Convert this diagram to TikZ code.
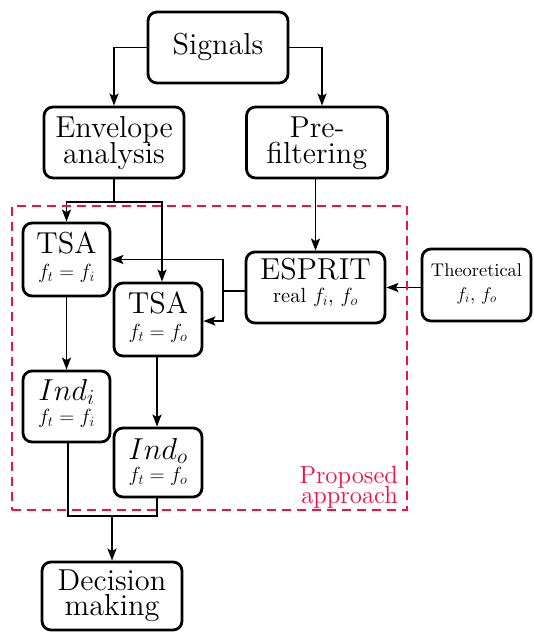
\RequirePackage{fix-cm}
\documentclass[tikz,border=0pt]{standalone}
\usepackage{fontspec}
\setmainfont{lmroman10-regular.otf}
\newfontfamily\twelverm{lmroman12-regular.otf}
\usetikzlibrary{arrows.meta,calc}
\definecolor{propred}{RGB}{250,12,62}
% font sizes used in the chart
\newcommand\bigf{\twelverm\fontsize{30.3}{27}\selectfont}
\newcommand\subf{\fontsize{20.5}{22}\selectfont}
\newcommand\notef{\fontsize{18.4}{20}\selectfont}
\newcommand\tagf{\twelverm\fontsize{24.8}{20}\selectfont}
% two centred lines, first baseline is the box baseline, fixed line distance
\newcommand\twolines[3]{\vtop{\baselineskip=#1\lineskiplimit=-100pt\lineskip=0pt
  \halign{\hfil##\hfil\cr#2\cr#3\cr}}}
\newcommand\twolinesr[3]{\vtop{\baselineskip=#1\lineskiplimit=-100pt\lineskip=0pt
  \halign{\hfil##\cr#2\cr#3\cr}}}
\begin{document}
\begin{tikzpicture}[x=1pt,y=-1pt,
  box/.style={draw, line width=2.8pt, rounded corners=9pt, inner sep=0pt},
  conn/.style={line width=1.9pt},
  arr/.style={conn, -{Stealth[length=12pt,width=9pt,inset=2.5pt]}},
  txt/.style={anchor=base, inner sep=0pt},
]
\path[use as bounding box] (0,0) rectangle (533,634);

% boxes
\node[box, minimum width=140pt, minimum height=71pt] (signals) at (218,47.5) {};
\node[box, minimum width=140pt, minimum height=71pt] (env) at (114,142.5) {};
\node[box, minimum width=141pt, minimum height=71pt] (pre) at (317,142.5) {};
\node[box, minimum width=87pt, minimum height=73pt] (tsai) at (66.5,259.5) {};
\node[box, minimum width=88pt, minimum height=73pt] (tsao) at (158,319.5) {};
\node[box, minimum width=139pt, minimum height=71pt] (esprit) at (315.5,287.5) {};
\node[box, minimum width=109pt, minimum height=72pt] (theo) at (476.5,285) {};
\node[box, minimum width=87pt, minimum height=71pt] (indi) at (66.5,406.5) {};
\node[box, minimum width=88pt, minimum height=69pt] (indo) at (158,462.5) {};
\node[box, minimum width=140pt, minimum height=68pt] (dec) at (112,596) {};

% texts
\node[txt] (signalsT) at (218,55) {\bigf Signals};
\node[txt] (envT) at (114,137) {\twolines{26pt}{\bigf Envelope}{\bigf analysis}};
\node[txt] (preT) at (317,137) {\twolines{26pt}{\bigf Pre-}{\bigf filtering}};
\node[txt] (tsaiT) at (66.5,253) {\twolines{25pt}{\bigf TSA}{\subf $f_t = f_i$}};
\node[txt] (tsaoT) at (158,313) {\twolines{25pt}{\bigf TSA}{\subf $f_t = f_o$}};
\node[txt] (espritT) at (315.5,279) {\twolines{23pt}{\bigf ESPRIT}{\subf real $f_i$, $f_o$}};
\node[txt] (theoT) at (476.5,276) {\twolines{24pt}{\notef Theoretical}{\notef $f_i$, $f_o$}};
\node[txt] (indiT) at (66.5,400) {\twolines{23pt}{\bigf $Ind_i$}{\subf $f_t = f_i$}};
\node[txt] (indoT) at (158,459) {\twolines{22pt}{\bigf $Ind_o$}{\subf $f_t = f_o$}};
\node[txt] (decT) at (112,590) {\twolines{25pt}{\bigf Decision}{\bigf making}};

% connectors
\draw[arr] (signals.west) -| (env.north);
\draw[arr] (signals.east) -| ([xshift=5pt]pre.north);

\coordinate (envJ) at (114,202);
\draw[conn] (env.south) -- (envJ);
\draw[arr] (envJ) -| (tsai.north);
\draw[arr] (envJ) -| ([xshift=4pt]tsao.north);

\draw[arr] (pre.south -| esprit.north) -- (esprit.north);

\coordinate (espJ) at (223,291);
\draw[conn] ([yshift=-3.5pt]esprit.west) -- (espJ);
\draw[arr] (espJ) |- (tsai.east);
\draw[arr] (espJ) |- ([yshift=-1.5pt]tsao.east);

\draw[arr] (theo.west |- esprit.east) -- (esprit.east);

\draw[arr] (tsai.south) -- (indi.north);
\draw[arr] ([xshift=-1pt]tsao.south) -- ([xshift=-1pt]indo.north);

\coordinate (indJ) at (112,516);
\draw[conn] ([xshift=1.5pt]indi.south) |- (indJ) -| ([xshift=-1pt]indo.south);
\draw[arr] (indJ) -- (dec.north);

% proposed approach region
\node[draw=propred, line width=2.3pt, dash pattern=on 9pt off 6pt,
      minimum width=395pt, minimum height=304pt, inner sep=0pt] (region) at (209.5,358) {};
\node[anchor=base east, inner sep=0pt, text=propred] (regionT) at (398,483)
  {\twolinesr{20pt}{\tagf Proposed}{\tagf approach}};
\end{tikzpicture}
\end{document}
